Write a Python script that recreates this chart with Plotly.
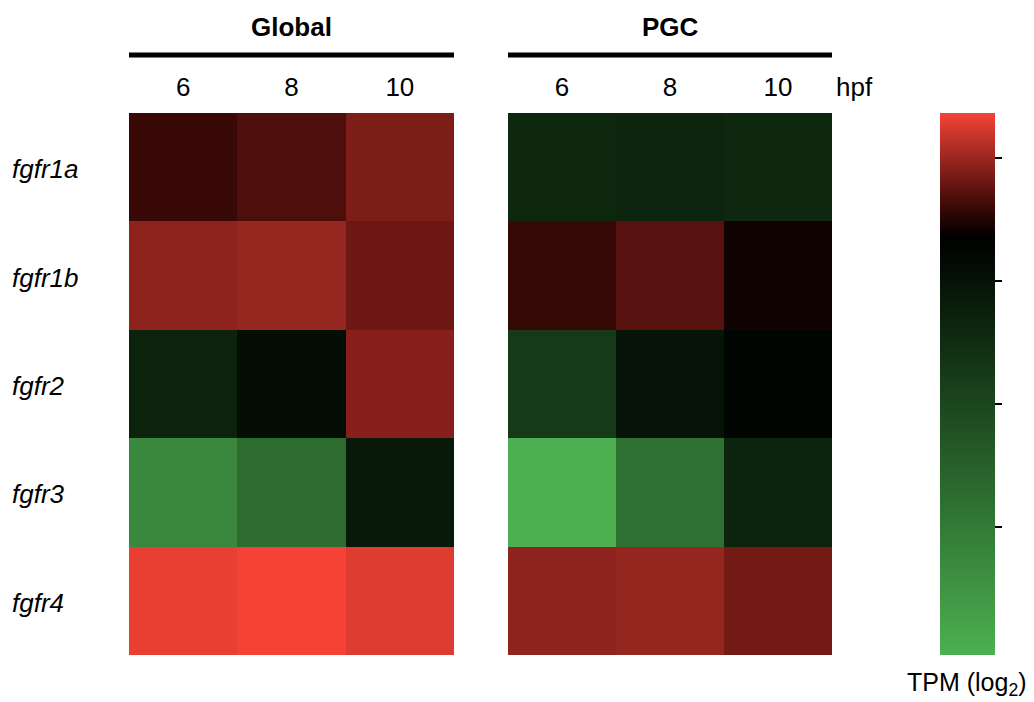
import plotly.graph_objects as go

# ---- data ----
genes = ["fgfr1a", "fgfr1b", "fgfr2", "fgfr3", "fgfr4"]
stages = ["6", "8", "10"]
groups = ["Global", "PGC"]
global_vals = [
    [7.19, 7.36, 7.75],
    [7.89, 7.96, 7.62],
    [5.40, 6.17, 7.83],
    [1.46, 2.53, 5.75],
    [8.63, 8.73, 8.55],
]
pgc_vals = [
    [5.17, 5.29, 5.20],
    [7.16, 7.44, 6.86],
    [4.52, 5.94, 6.52],
    [-0.08, 2.34, 5.33],
    [7.90, 7.95, 7.67],
]
cbar_ticks = [2, 4, 6, 8]
zmin, zmax = -0.08, 8.73
black_at = 6.72

W, H = 1034, 702
OFF = 8  # page body margin
FONT = "Liberation Sans, Arial, Helvetica, sans-serif"

b = (black_at - zmin) / (zmax - zmin)
green_stops = [(1.0, (76, 176, 80)), (0.625, (45, 110, 48)), (0.2, (12, 35, 13)), (0.1, (5, 17, 6))]
red_stops = [(0.2, (49, 7, 5)), (0.3, (73, 13, 10)), (0.5, (122, 28, 23)), (0.57, (139, 34, 29)), (1.0, (244, 67, 54))]
colorscale = [[b * (1 - g), "rgb(%d,%d,%d)" % c] for g, c in green_stops]
colorscale.append([b, "rgb(0,0,0)"])
colorscale += [[b + r * (1 - b), "rgb(%d,%d,%d)" % c] for r, c in red_stops]

def px_x(p):
    return (p - OFF) / W

def px_y(p):
    return 1 - (p - OFF) / H

dom1 = [px_x(129), px_x(454)]
dom2 = [px_x(508), px_x(832)]
ydom = [px_y(655), px_y(113)]

fig = go.Figure()
fig.add_trace(go.Heatmap(
    z=global_vals, x=stages, y=genes, colorscale=colorscale, zmin=zmin, zmax=zmax,
    xaxis="x", yaxis="y", showscale=False,
))
fig.add_trace(go.Heatmap(
    z=pgc_vals, x=stages, y=genes, colorscale=colorscale, zmin=zmin, zmax=zmax,
    xaxis="x2", yaxis="y2", showscale=True,
    colorbar=dict(
        thicknessmode="pixels", thickness=55,
        lenmode="pixels", len=542,
        x=px_x(940), xanchor="left", xpad=0,
        y=px_y(113), yanchor="top", ypad=0,
        outlinewidth=0,
        tickmode="array", tickvals=cbar_ticks,
        ticks="outside", ticklen=7, tickwidth=2, tickcolor="black",
        showticklabels=False,
    ),
))

xcommon = dict(side="top", showgrid=False, zeroline=False, showline=False, ticks="",
               tickfont=dict(family=FONT, size=26, color="black"), automargin=False,
               ticklabelstandoff=11)
ycommon = dict(showgrid=False, zeroline=False, showline=False, showticklabels=False,
               autorange="reversed", automargin=False, domain=ydom)

fig.update_layout(
    width=W, height=H,
    margin=dict(l=0, r=0, t=0, b=0),
    paper_bgcolor="white", plot_bgcolor="white",
    font=dict(family=FONT, color="black"),
    xaxis=dict(domain=dom1, anchor="y", **xcommon),
    xaxis2=dict(domain=dom2, anchor="y2", **xcommon),
    yaxis=dict(anchor="x", **ycommon),
    yaxis2=dict(anchor="x2", **ycommon),
)

# group headers with bars
for name, dom in zip(groups, [dom1, dom2]):
    fig.add_annotation(text="<b>" + name + "</b>", x=(dom[0] + dom[1]) / 2, y=px_y(27),
                       xref="paper", yref="paper", showarrow=False,
                       font=dict(family=FONT, size=26, color="black"),
                       xanchor="center", yanchor="middle")
    fig.add_shape(type="line", xref="paper", yref="paper", x0=dom[0], x1=dom[1],
                  y0=px_y(55), y1=px_y(55), line=dict(color="black", width=5))

fig.add_annotation(text="hpf", x=px_x(834), y=px_y(87), xref="paper", yref="paper",
                   showarrow=False, xanchor="left", yanchor="middle",
                   font=dict(family=FONT, size=26, color="black"))

for g in genes:
    fig.add_annotation(text=g, x=px_x(10), y=g, xref="paper", yref="y",
                       showarrow=False, xanchor="left", yanchor="middle", yshift=-2,
                       font=dict(family=FONT, size=26, color="black", style="italic"))

fig.add_annotation(text="TPM (log<sub>2</sub>)", x=px_x(966), y=px_y(684), xref="paper", yref="paper",
                   showarrow=False, xanchor="center", yanchor="middle",
                   font=dict(family=FONT, size=25, color="black"))

fig.write_html("out.html")
